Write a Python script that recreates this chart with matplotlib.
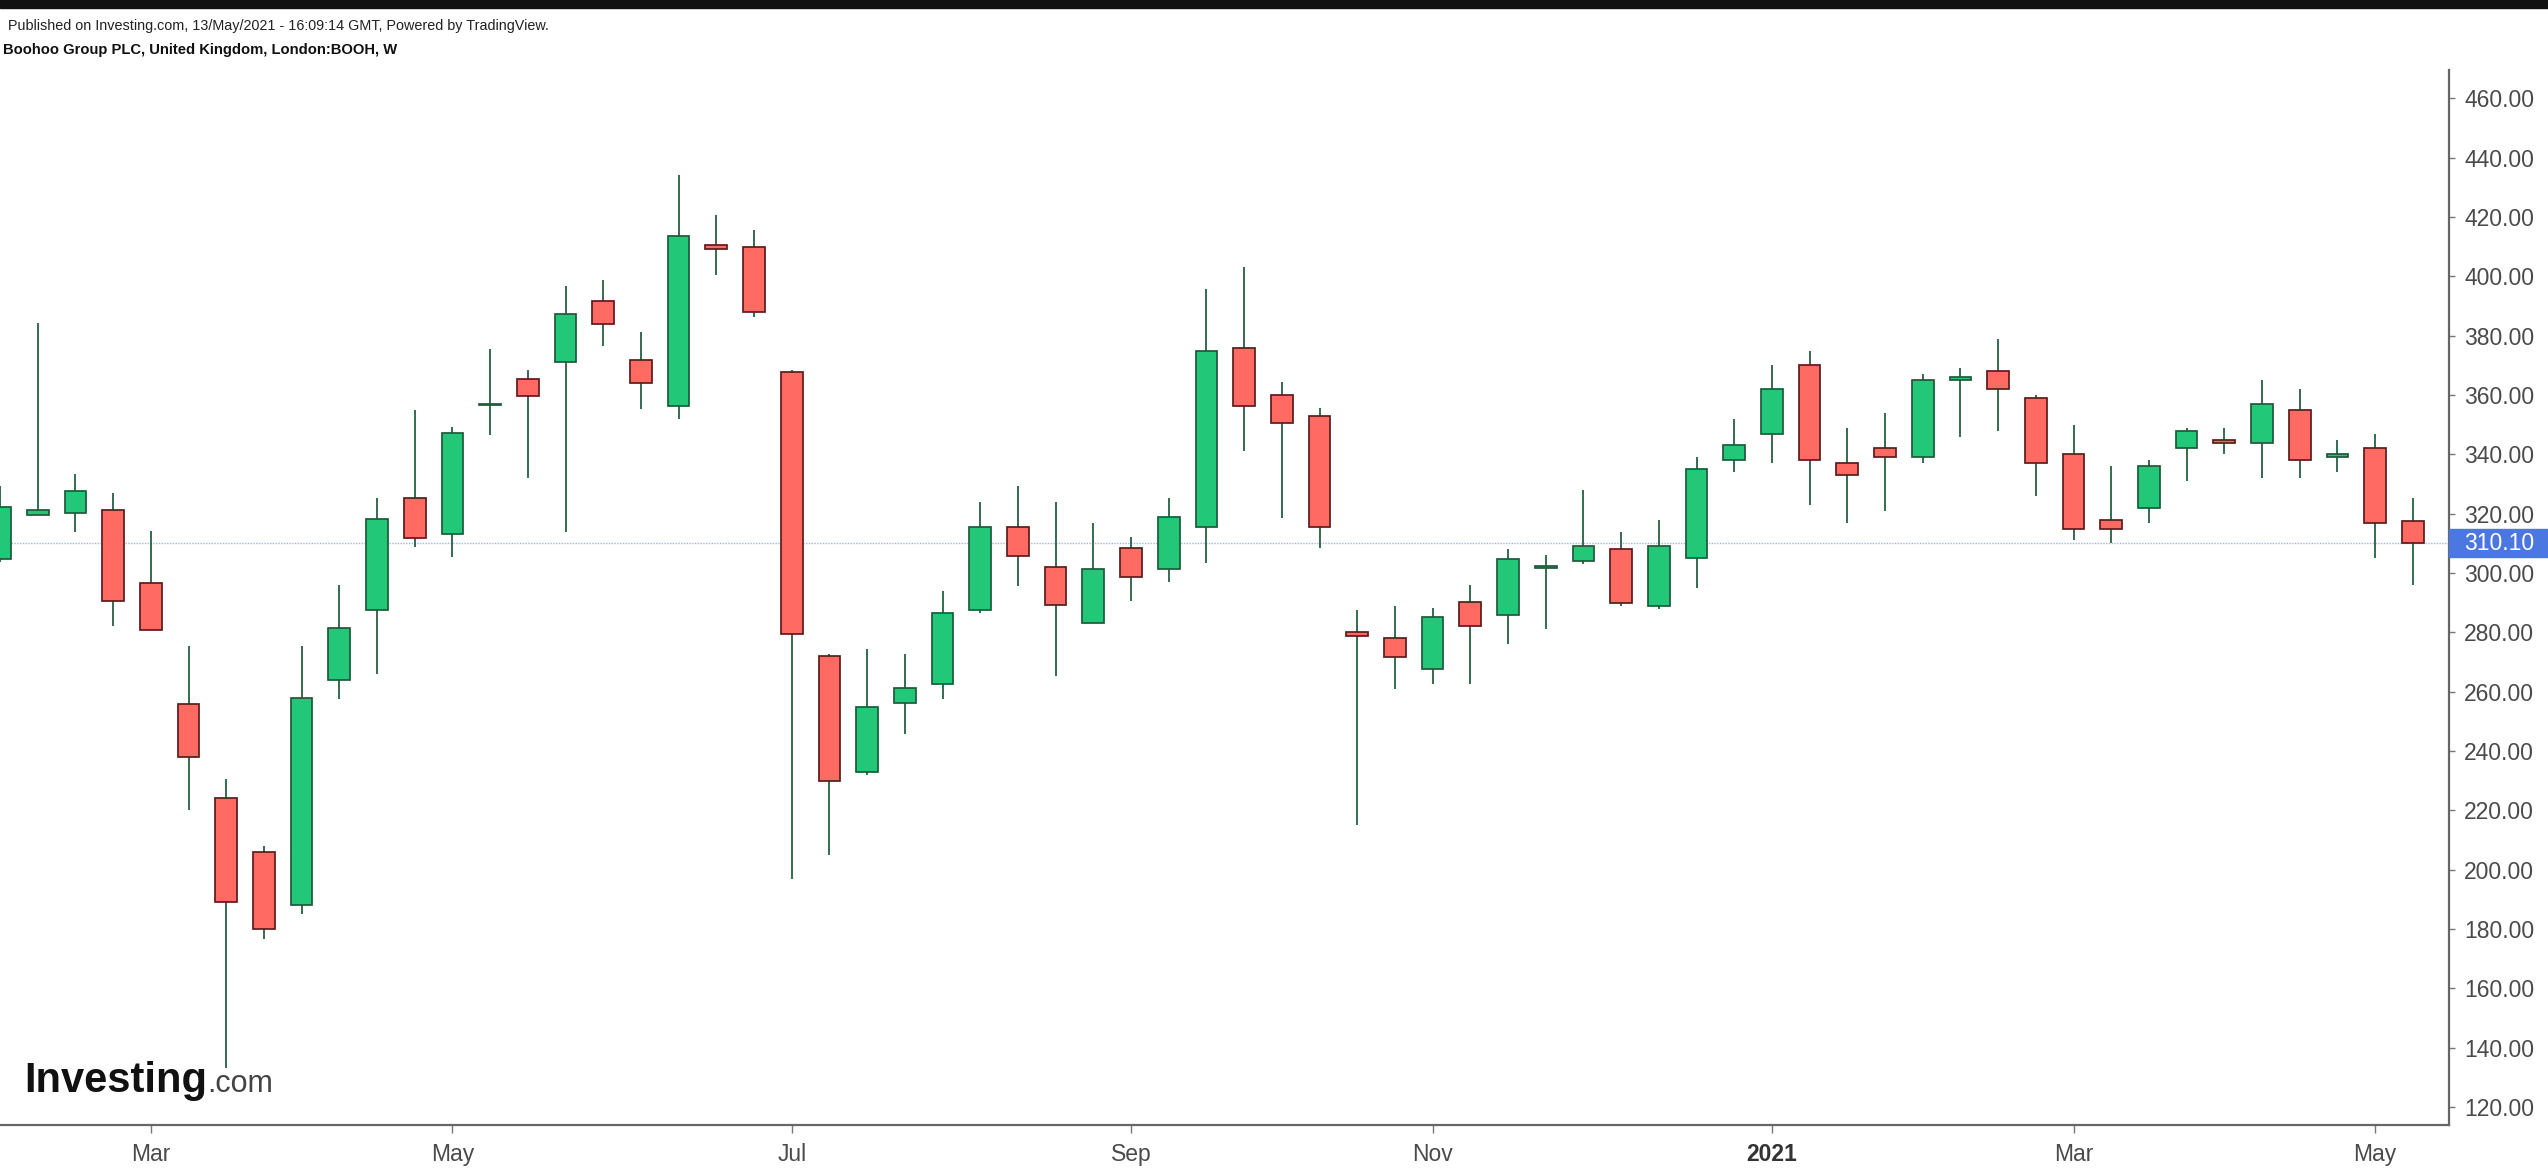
import matplotlib.pyplot as plt
from matplotlib.patches import Rectangle
import matplotlib.transforms as mtransforms

plt.rcParams['font.family'] = ['Liberation Sans', 'DejaVu Sans']

# weekly OHLC, Boohoo (BOOH)
opens = [304.8, 319.7, 320.2, 321.2, 296.5, 255.7, 224.0, 206.0, 188.0, 264.0,
         287.4, 325.3, 313.3, 356.5, 365.5, 371.0, 391.7, 371.8, 356.3, 410.6,
         409.9, 367.7, 271.9, 233.0, 256.2, 262.7, 287.4, 315.5, 302.1, 283.2,
         308.4, 301.4, 315.5, 376.0, 359.9, 352.8, 280.1, 278.2, 267.5, 290.1,
         285.9, 301.8, 304.0, 308.0, 289.0, 305.0, 338.0, 347.0, 370.0, 337.0,
         342.0, 339.0, 365.2, 368.0, 359.0, 340.0, 318.0, 322.0, 342.0, 345.0,
         344.0, 355.0, 339.2, 342.0, 317.7]
highs = [329.2, 384.2, 333.4, 326.9, 314.2, 275.5, 230.7, 208.0, 275.5, 295.8,
         325.4, 355.1, 349.4, 375.6, 368.6, 396.8, 398.9, 381.3, 434.1, 420.7,
         415.7, 368.6, 272.6, 274.3, 272.8, 293.8, 324.1, 329.2, 324.1, 317.0,
         312.2, 325.4, 395.9, 403.1, 364.3, 355.7, 287.4, 288.9, 288.1, 295.8,
         308.0, 306.0, 328.0, 314.0, 318.0, 339.0, 352.0, 370.0, 375.0, 349.0,
         354.0, 367.0, 369.0, 379.0, 360.0, 350.0, 336.0, 338.0, 349.0, 349.0,
         365.0, 362.0, 345.0, 347.0, 325.4]
lows = [303.6, 319.7, 313.7, 282.1, 280.7, 220.0, 133.0, 176.5, 185.0, 257.6,
        266.0, 308.9, 305.4, 346.4, 332.2, 313.9, 376.5, 355.4, 351.8, 400.4,
        386.4, 197.0, 205.0, 232.0, 245.7, 257.6, 286.5, 295.6, 265.2, 283.2,
        290.7, 297.0, 303.3, 341.3, 318.7, 308.4, 215.0, 261.0, 262.5, 262.5,
        276.0, 281.0, 303.0, 289.0, 288.0, 295.0, 334.0, 337.0, 323.0, 317.0,
        321.0, 337.0, 346.0, 348.0, 326.0, 311.0, 310.0, 317.0, 331.0, 340.0,
        332.0, 332.0, 334.0, 305.0, 296.0]
closes = [322.4, 321.2, 327.7, 290.7, 280.7, 238.0, 189.0, 180.0, 257.7, 281.6,
          318.2, 311.9, 347.3, 357.0, 359.8, 387.3, 383.8, 364.0, 413.5, 409.1,
          387.9, 279.5, 230.0, 254.8, 261.2, 286.6, 315.5, 305.6, 289.3, 301.4,
          298.5, 319.0, 374.7, 356.3, 350.7, 315.5, 278.9, 271.7, 285.3, 282.3,
          304.8, 302.4, 309.0, 290.0, 309.0, 335.0, 343.0, 362.0, 338.0, 333.0,
          339.0, 365.0, 366.0, 362.0, 337.0, 315.0, 315.0, 336.0, 348.0, 344.0,
          357.0, 338.0, 340.0, 317.0, 310.1]

month_pos = [4, 12, 21, 30, 38, 47, 55, 63]
month_labels = ['Mar', 'May', 'Jul', 'Sep', 'Nov', '2021', 'Mar', 'May']
price_ticks = list(range(120, 461, 20))
last_price = 310.10

green, green_edge = '#22c878', '#1d5a3a'
red, red_edge = '#ff6a62', '#5c1c1c'

fig = plt.figure(figsize=(25.48, 11.68), dpi=100)
ax = fig.add_axes([0, 1 - 1125 / 1168, 2449 / 2548, (1125 - 70) / 1168])

x = list(range(len(opens)))
ax.vlines(x, lows, highs, color=green_edge, lw=1.25, zorder=2)
for i in x:
    o, c = opens[i], closes[i]
    up = c >= o
    ax.bar(i, max(abs(c - o), 0.4), bottom=min(o, c), width=0.575,
           color=green if up else red, edgecolor=green_edge if up else red_edge,
           linewidth=1.25, zorder=3)

ax.axhline(last_price, color='#9fb3f2', lw=1, ls=(0, (1, 1)), zorder=1)

ax.set_xlim(0, 64.96)
ax.set_ylim(113.9, 469.6)

for s in ['top', 'left']:
    ax.spines[s].set_visible(False)
for s in ['right', 'bottom']:
    ax.spines[s].set_color('#666666')
    ax.spines[s].set_linewidth(1.6)

ax.yaxis.tick_right()
ax.set_yticks(price_ticks)
ax.set_yticklabels(['%.2f' % v for v in price_ticks])
ax.tick_params(axis='y', direction='out', length=4, width=1, color='#777777',
               labelsize=16.5, labelcolor='#4a4a4a', pad=7)
ax.set_xticks(month_pos)
ax.set_xticklabels(month_labels)
ax.tick_params(axis='x', direction='out', length=6, width=1, color='#777777',
               labelsize=16.5, labelcolor='#4a4a4a', pad=7)
for lab in ax.get_xticklabels():
    if lab.get_text() == '2021':
        lab.set_fontweight('bold')
        lab.set_color('#333333')

# last price marker on the axis
trans = mtransforms.blended_transform_factory(ax.transAxes, ax.transData)
ax.add_patch(Rectangle((1.0, last_price - 4.7), 0.045, 9.4, transform=trans,
                       color='#4a78e0', clip_on=False, zorder=5))
ax.text(1.0063, last_price, '%.2f' % last_price, transform=trans, color='white',
        fontsize=16.5, va='center', ha='left', zorder=6, clip_on=False)

# header
fig.patches.append(Rectangle((0, 1 - 8 / 1168), 1, 8 / 1168, transform=fig.transFigure,
                             color='#111111'))
fig.text(8 / 2548, 1 - 26 / 1168, 'Published on Investing.com, 13/May/2021 - 16:09:14 GMT, Powered by TradingView.',
         fontsize=10.4, color='#222222', va='center', ha='left')
fig.text(3 / 2548, 1 - 50 / 1168, 'Boohoo Group PLC, United Kingdom, London:BOOH, W',
         fontsize=10.6, fontweight='bold', color='#111111', va='center', ha='left')

# logo
logo = fig.text(24 / 2548, 1 - 1092 / 1168, 'Investing', fontsize=30, fontweight='bold',
                color='#111111', va='baseline', ha='left')
fig.canvas.draw()
bb = logo.get_window_extent()
fig.text(bb.x1 / 2548, 1 - 1092 / 1168, '.com', fontsize=22, color='#444444',
         va='baseline', ha='left')

fig.savefig('out.png', dpi=100)
